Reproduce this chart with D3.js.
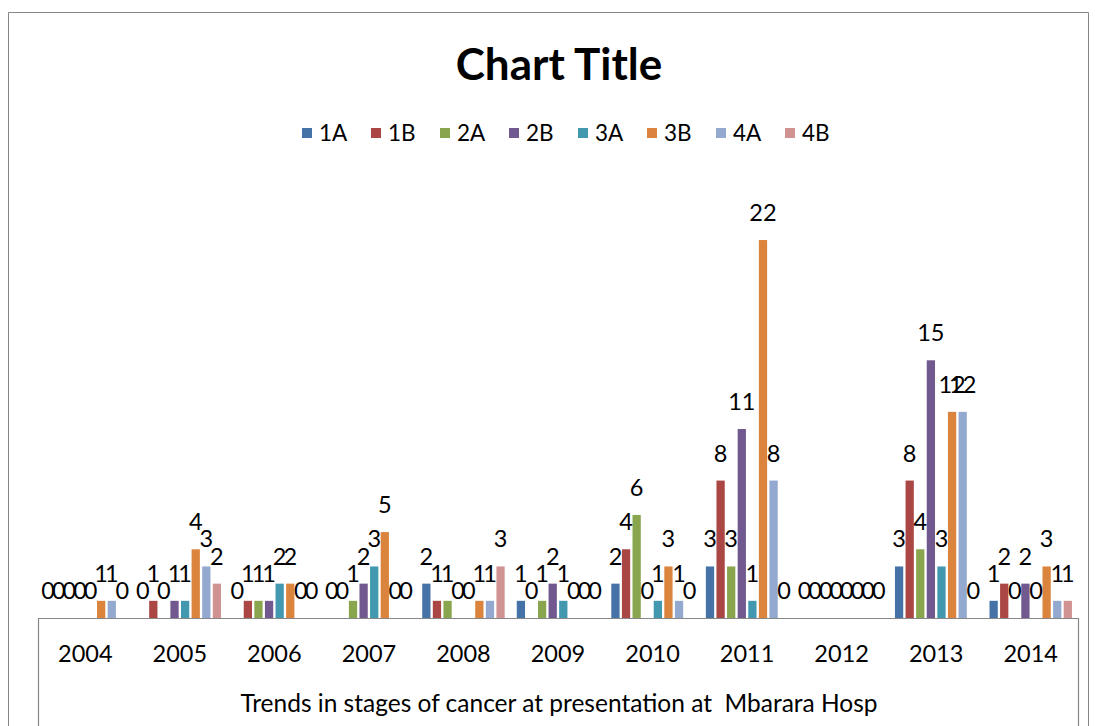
<!DOCTYPE html>
<html><head><meta charset="utf-8">
<script src="https://cdn.jsdelivr.net/npm/d3@7"></script>
<style>
html,body{margin:0;padding:0;background:#fff;}
svg{display:block;}
text{font-family:"Lato",sans-serif;fill:#000;}
</style></head>
<body><svg id="c" width="1095" height="726"></svg>
<script>
const years = ["2004","2005","2006","2007","2008","2009","2010","2011","2012","2013","2014"];
const stages = ["1A","1B","2A","2B","3A","3B","4A","4B"];
const colors = ["#4572A7","#AA4643","#89A54E","#71588F","#4198AF","#DB843D","#93A9CF","#D19392"];
const s1A = [0,0,0,0,2,1,2,3,0,3,1];
const s1B = [0,1,1,0,1,0,4,8,0,8,2];
const s2A = [0,0,1,1,1,1,6,3,0,4,0];
const s2B = [0,1,1,2,0,2,0,11,0,15,2];
const s3A = [0,1,2,3,0,1,1,1,0,3,0];
const s3B = [1,4,2,5,1,0,3,22,0,12,3];
const s4A = [1,3,0,0,1,0,1,8,0,12,1];
const s4B = [0,2,0,0,3,0,0,0,0,0,1];
const seriesValues = [s1A,s1B,s2A,s2B,s3A,s3B,s4A,s4B];
const titleText = "Chart Title";
const axisTitle = "Trends in stages of cancer at presentation at  Mbarara Hosp";

(function(){
const svg = d3.select("#c");
const W = 1095, H = 726;
const pLeft = 38, pRight = 1078, base = 618, pTop = 188.5;

svg.append("path").attr("d", `M8.5,${H} V12.5 H1088.5 V${H}`).attr("fill","none").attr("stroke","#868686").attr("stroke-width",1);

const x0 = d3.scaleBand().domain(years).range([pLeft, pRight]).paddingInner(0).paddingOuter(0);
const x1 = d3.scaleBand().domain(stages).range([0, x0.bandwidth()]).paddingInner(0.22).paddingOuter(0.57);
const y = d3.scaleLinear().domain([0,25]).range([base, pTop]);

const data = [];
years.forEach((yr, i) => stages.forEach((st, j) => data.push({yr, st, j, v: seriesValues[j][i]})));

const g = svg.append("g");
g.selectAll("rect.bar").data(data).join("rect")
  .attr("class","bar")
  .attr("x", d => x0(d.yr) + x1(d.st))
  .attr("y", d => y(d.v))
  .attr("width", x1.bandwidth())
  .attr("height", d => base - y(d.v))
  .attr("fill", d => colors[d.j]);

g.selectAll("text.lbl").data(data).join("text")
  .attr("class","lbl")
  .attr("x", d => x0(d.yr) + x1(d.st) + x1.bandwidth()/2)
  .attr("y", d => y(d.v) - 19)
  .attr("text-anchor","middle")
  .attr("font-size", 23.5)
  .text(d => d.v);

svg.append("path").attr("d", `M${pLeft+0.5},${H} V${base+0.5} H${pRight+0.5} V${H}`)
  .attr("fill","none").attr("stroke","#868686").attr("stroke-width",1.2);

const xAxis = d3.axisBottom(x0).tickSize(0).tickPadding(0);
const ax = svg.append("g").attr("transform", `translate(0,${base})`).call(xAxis);
ax.select(".domain").remove();
ax.selectAll("text").attr("y", 44).attr("dy", 0).attr("font-size", 23.5).style("font-family", '"Lato",sans-serif').attr("fill","#000");

svg.append("text").attr("x", 559).attr("y", 712).attr("text-anchor","middle").attr("font-size", 24.5)
  .style("white-space","pre").text(axisTitle);

svg.append("text").attr("x", 559).attr("y", 80).attr("text-anchor","middle").attr("font-size", 44).attr("font-weight","bold").text(titleText);

const lg = svg.append("g").selectAll("g").data(stages).join("g")
  .attr("transform", (d,i) => `translate(${302 + i*69},128)`);
lg.append("rect").attr("width",10).attr("height",10).attr("fill",(d,i)=>colors[i]);
lg.append("text").attr("x",17).attr("y",13).attr("font-size",22.5).text(d=>d);
})();
</script></body></html>
